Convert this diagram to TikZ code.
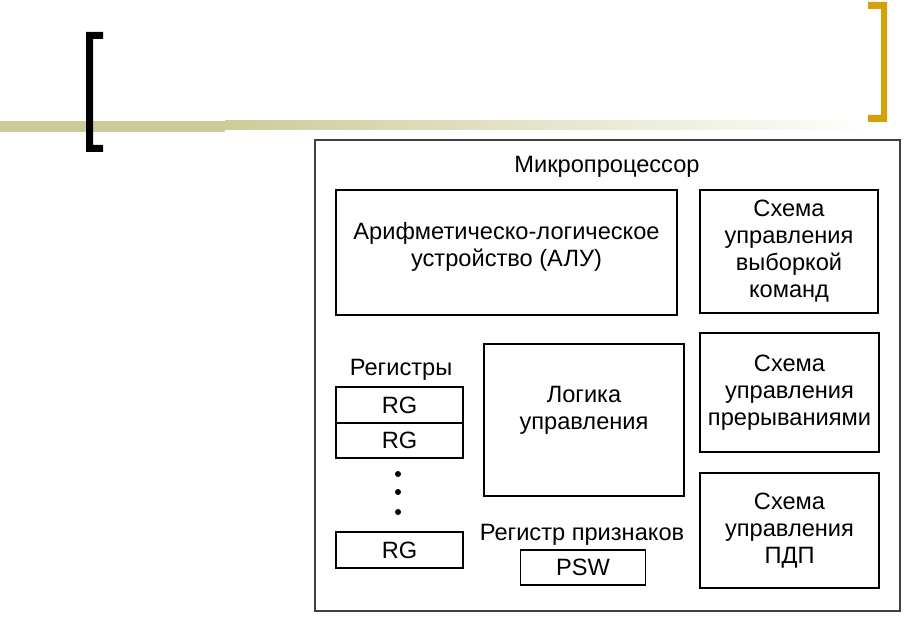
\documentclass[tikz,border=0pt]{standalone}
\usepackage{fontspec}
\setmainfont{Liberation Sans}
\definecolor{bandolive}{RGB}{204,204,153}
\definecolor{bracketgold}{RGB}{214,160,8}
\definecolor{framegray}{RGB}{64,64,64}

\begin{document}
\begin{tikzpicture}[x=0.025cm, y=-0.025cm,
  every node/.style={font=\fontsize{16.8}{19.2}\selectfont},
  box/.style 2 args={draw, line width=1.3pt, inner sep=0pt, align=center,
    minimum width=#1*0.025cm, minimum height=#2*0.025cm},
  lbl/.style={inner sep=0pt, align=center},
  dot/.style={circle, fill, inner sep=0pt, minimum size=6*0.025cm}]
 \useasboundingbox (0,0) rectangle (912,623);
 % title bar and brackets
 \fill[bandolive] (0,121) rectangle (225,132);
 \shade[left color=bandolive, right color=white] (225,121) rectangle (880,130);
 \fill[black] (86,32) -- (103,32) -- (103,39) -- (93,39) -- (93,145) -- (103,145)
   -- (103,152) -- (86,152) -- cycle;
 \fill[bracketgold] (887,2) -- (868,2) -- (868,9) -- (881,9) -- (881,115) -- (868,115)
   -- (868,122) -- (887,122) -- cycle;

 \node[box={585}{471}, draw=framegray] (mp) at (607.5,375.5) {};
 \node[lbl] (mptitle) at (607,167) {Микропроцессор};

 \node[box={341}{125}] (alu) at (506.5,252.5) {};
 \node[lbl] (alutxt) at (506.5,247) {Арифметическо-логическое\\устройство (АЛУ)};
 \node[box={178}{123}] (fetch) at (789,251.5) {Схема\\управления\\выборкой\\команд};
 \node[box={179}{119}] (intr) at (789.5,392.5) {Схема\\управления\\прерываниями};
 \node[box={179}{115}] (dma) at (789.5,530.5) {Схема\\управления\\ПДП};

 \node[box={200}{152}] (ctrl) at (584,420) {};
 \node[lbl] (ctrltxt) at (584,410) {Логика\\управления};

 \node[lbl] (regs) at (401,370) {Регистры};
 \node[box={127}{36}] (rg1) at (399.5,405) {RG};
 \node[box={127}{35}] (rg2) at (399.5,440.5) {RG};
 \node[dot] (d1) at (398,474) {};
 \node[dot] (d2) at (398,492) {};
 \node[dot] (d3) at (398,512) {};
 \node[box={127}{36}] (rgn) at (399.5,550) {RG};

 \node[lbl] (flags) at (582,535) {Регистр признаков};
 \node[box={125}{35}] (psw) at (583,567.5) {PSW};
\end{tikzpicture}
\end{document}
